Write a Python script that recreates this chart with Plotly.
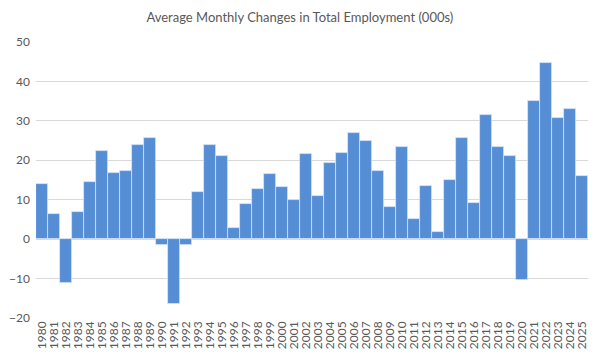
import plotly.graph_objects as go

years = [str(y) for y in range(1980, 2026)]
values = [13.9, 6.5, -11.2, 6.9, 14.4, 22.3, 16.7, 17.4, 23.8, 25.6,
          -1.4, -16.4, -1.4, 12.0, 23.9, 21.1, 2.9, 8.9, 12.6, 16.6,
          13.1, 9.9, 21.7, 11.0, 19.3, 21.9, 26.9, 24.8, 17.2, 8.1,
          23.3, 5.2, 13.6, 1.9, 14.9, 25.7, 9.1, 31.6, 23.3, 21.1,
          -10.4, 35.0, 44.8, 30.6, 32.9, 16.1]
y_ticks = [-20, -10, 0, 10, 20, 30, 40, 50]

fig = go.Figure(go.Bar(
    x=years, y=values,
    marker=dict(color="#558ED5", line=dict(color="rgba(220,232,248,0.9)", width=0.8)),
))

fig.update_layout(
    width=592, height=353,
    margin=dict(l=28, r=12, t=34, b=43, autoexpand=False),
    paper_bgcolor="white", plot_bgcolor="white",
    bargap=0,
    showlegend=False,
    font=dict(family="Lato, Open Sans, sans-serif", color="#595959"),
    title=dict(text="Average Monthly Changes in Total Employment (000s)",
               x=0.493, xref="container", xanchor="center",
               y=0.972, yref="container", yanchor="middle",
               font=dict(size=13, color="#595959")),
)
fig.update_yaxes(range=[-20, 50], tickvals=y_ticks, showgrid=True,
                 gridcolor="#D9D9D9", gridwidth=1, zeroline=True,
                 zerolinecolor="#D9D9D9", zerolinewidth=1,
                 tickfont=dict(size=12, color="#595959"), ticks="",
                 showline=False, automargin=False, ticklabelstandoff=5)
fig.update_xaxes(type="category", tickmode="linear", dtick=1, tickangle=-90,
                 tickfont=dict(size=12, color="#595959"),
                 showgrid=False, showline=False, ticks="", automargin=False)

fig.write_html("out.html")
